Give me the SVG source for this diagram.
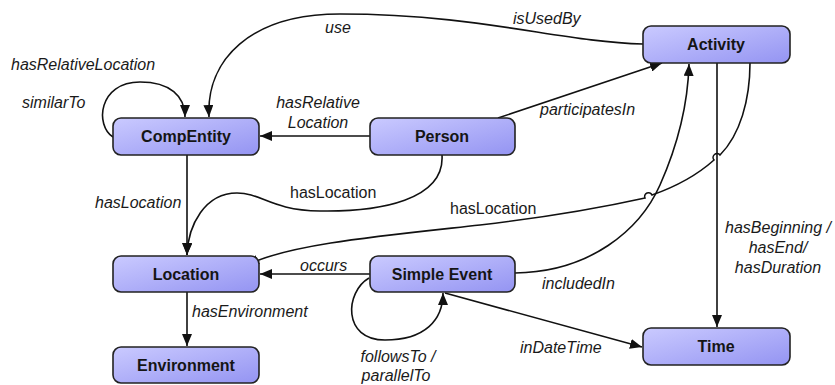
<svg xmlns="http://www.w3.org/2000/svg" width="835" height="385" viewBox="0 0 835 385">
  <defs>
    <linearGradient id="nodeFill" x1="0" y1="0" x2="1" y2="1">
      <stop offset="0" stop-color="#cacaff"/>
      <stop offset="1" stop-color="#9494f2"/>
    </linearGradient>
    <marker id="arrowL" viewBox="0 0 12 10" refX="12" refY="5" markerWidth="12" markerHeight="10" markerUnits="userSpaceOnUse" orient="auto">
      <path d="M0,0 L12,5 L0,10 Z" fill="#111"/>
    </marker>
  </defs>
  <style>
    .node rect { fill: url(#nodeFill); stroke: #222; stroke-width: 1.6; }
    .node text { font-family: "Liberation Sans", Arial, sans-serif; font-size: 16px; font-weight: bold; fill: #151515; text-anchor: middle; }
    .edge { fill: none; stroke: #111; stroke-width: 1.6; }
    .arr { marker-end: url(#arrowL); }
    .lbl { font-family: "Liberation Sans", Arial, sans-serif; font-size: 16px; font-style: italic; fill: #1a1a1a; }
    .lbl.plain { font-style: normal; }
    .mid { text-anchor: middle; }
  </style>

  <!-- connectors -->
  <g id="connectors">
    <!-- Activity use / isUsedBy CompEntity -->
    <path class="edge arr" d="M643,44 C560,42 480,14 340,14 C250,14 206,60 209,117"/>
    <!-- CompEntity self loop -->
    <path class="edge arr" d="M113,137 C95,126 98,82 140,82 C170,82 185,96 185,117"/>
    <!-- Person -> CompEntity -->
    <path class="edge arr" d="M370,136 L260,136"/>
    <!-- Person -> Activity -->
    <path class="edge arr" d="M498,118 L662,63"/>
    <!-- CompEntity -> Location -->
    <path class="edge arr" d="M187,155 L187,255"/>
    <!-- Person -> Location -->
    <path class="edge arr" d="M442,155 C445,200 380,212 320,211 C270,210 262,193 237,193 C205,193 188,225 187,255"/>
    <!-- Activity -> Location (with line hops) -->
    <path class="edge arr" d="M750,63 C750,100 740,135 720,155 A3.5,3.5 0 0 0 714,160 C695,177 672,188 652,195 A3.5,3.5 0 0 0 645,198 C600,208 540,218 480,225 C380,236 290,244 247,265"/>
    <!-- Simple Event -> Location -->
    <path class="edge arr" d="M370,274 L260,274"/>
    <!-- Location -> Environment -->
    <path class="edge arr" d="M187,292 L187,346"/>
    <!-- Simple Event self loop -->
    <path class="edge arr" d="M369,278 C345,292 342,340 385,340 C425,340 443,320 443,293"/>
    <!-- Simple Event -> Activity -->
    <path class="edge arr" d="M515,273 C590,272 640,230 660,185 C680,140 688,100 689,64"/>
    <!-- Activity -> Time -->
    <path class="edge arr" d="M717,63 L717,327"/>
    <!-- Simple Event -> Time -->
    <path class="edge arr" d="M445,293 L642,347"/>
  </g>

  <!-- connector labels -->
  <g id="labels">
    <text class="lbl" x="325" y="33">use</text>
    <text class="lbl" x="513" y="24">isUsedBy</text>
    <text class="lbl" x="11" y="70">hasRelativeLocation</text>
    <text class="lbl" x="22" y="108">similarTo</text>
    <text class="lbl mid" x="318" y="108">hasRelative</text>
    <text class="lbl mid" x="318" y="128">Location</text>
    <text class="lbl" x="540" y="115">participatesIn</text>
    <text class="lbl" x="95" y="208">hasLocation</text>
    <text class="lbl plain" x="290" y="198">hasLocation</text>
    <text class="lbl plain" x="450" y="214">hasLocation</text>
    <text class="lbl" x="300" y="271">occurs</text>
    <text class="lbl" x="542" y="289">includedIn</text>
    <text class="lbl" x="192" y="317">hasEnvironment</text>
    <text class="lbl mid" x="398" y="362">followsTo /</text>
    <text class="lbl mid" x="396" y="381">parallelTo</text>
    <text class="lbl" x="520" y="353">inDateTime</text>
    <text class="lbl mid" x="778" y="233">hasBeginning /</text>
    <text class="lbl mid" x="778" y="253">hasEnd/</text>
    <text class="lbl mid" x="778" y="273">hasDuration</text>
  </g>

  <!-- nodes -->
  <g id="node-compentity" class="node">
    <rect x="113" y="118" width="146" height="37" rx="8"/>
    <text x="186" y="142">CompEntity</text>
  </g>
  <g id="node-person" class="node">
    <rect x="370" y="118" width="145" height="37" rx="8"/>
    <text x="442" y="142">Person</text>
  </g>
  <g id="node-activity" class="node">
    <rect x="643" y="26" width="147" height="37" rx="8"/>
    <text x="716" y="50">Activity</text>
  </g>
  <g id="node-location" class="node">
    <rect x="113" y="256" width="146" height="36" rx="8"/>
    <text x="186" y="280">Location</text>
  </g>
  <g id="node-environment" class="node">
    <rect x="113" y="347" width="146" height="36" rx="8"/>
    <text x="186" y="371">Environment</text>
  </g>
  <g id="node-simpleevent" class="node">
    <rect x="370" y="256" width="145" height="36" rx="8"/>
    <text x="442" y="280">Simple Event</text>
  </g>
  <g id="node-time" class="node">
    <rect x="643" y="328" width="147" height="37" rx="8"/>
    <text x="716" y="352">Time</text>
  </g>
</svg>
